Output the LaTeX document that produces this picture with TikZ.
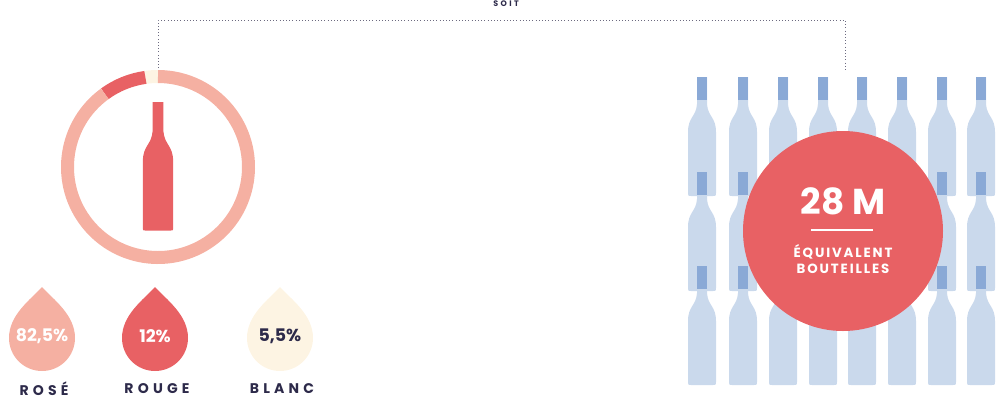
\documentclass[tikz,border=0pt]{standalone}
\usepackage{fontspec}
\setmainfont{Poppins}
\newfontfamily\spaced[LetterSpace=30]{Poppins}
\newfontfamily\wide[LetterSpace=14]{Poppins}
\definecolor{rosewine}{HTML}{F5B0A2}
\definecolor{redwine}{HTML}{E86164}
\definecolor{whitewine}{HTML}{FDF4E3}
\definecolor{glass}{HTML}{CAD9EC}
\definecolor{glasscap}{HTML}{8AA9D6}
\definecolor{ink}{HTML}{2D2A4A}
\begin{document}
\begin{tikzpicture}[x=0.75pt,y=-0.75pt]
    \tikzset{
      ring/.style={line width=9.75pt},
      drop/.style={fill=#1,draw=none},
      pct/.style={font=\bfseries\fontsize{13}{13}\selectfont},
      tag/.style={font=\spaced\bfseries\fontsize{10.5}{11}\selectfont,text=ink},
      bottle/.pic={
        \fill[#1] (-5,0) -- (5,0) -- (5,27) .. controls (6,40) and (14,40) .. (14,55)
          -- (14,116) .. controls (14,119) .. (11,119) -- (-11,119)
          .. controls (-14,119) .. (-14,116) -- (-14,55)
          .. controls (-14,40) and (-6,40) .. (-5,27) -- cycle;
      }
    }
    \useasboundingbox (0,0) rectangle (996,401);

    % dotted link
    \coordinate (donuttop) at (158,68);
    \coordinate (bottlestop) at (845,72);
    \draw[ink!70,dotted] (donuttop) |- (500,20) -| (bottlestop);
    \node[font=\spaced\bfseries\fontsize{6}{6}\selectfont,text=ink] (soit) at (506,4) {SOIT};

    % donut
    \coordinate (donut) at (158,167);
    \draw[ring,whitewine] (donut) ++(-90:90.5) arc(-90:-98:90.5);
    \draw[ring,redwine] (donut) ++(-98:90.5) arc(-98:-126:90.5);
    \draw[ring,rosewine] (donut) ++(-126:90.5) arc(-126:-450:90.5);
    \pic[scale=1.08] at (158,102) {bottle=redwine};

    % drops
    \foreach \x/\c/\v/\t/\l in {42/rosewine/{82,5\%}/white/ROSÉ,
                                155/redwine/{12\%}/white/ROUGE,
                                280/whitewine/{5,5\%}/ink/BLANC}{
      \fill[drop=\c] (\x,287) .. controls (\x+12,300) and (\x+33,315) .. (\x+33,338)
        arc(0:180:33) .. controls (\x-33,315) and (\x-12,300) .. cycle;
      \node[pct,text=\t] at (\x,336) {\v};
      \node[tag] at (\x+2,389) {\l};
    }

    % bottles
    \foreach \y in {77,172,266}
      \foreach \x in {702,743,783,823,862,902,942,981}{
        \pic at (\x,\y) {bottle=glass};
        \fill[glasscap] (\x-5,\y) rectangle (\x+5,\y+23);
      }

    % total
    \node[circle,fill=redwine,minimum size=150pt,inner sep=0pt] (total) at (843,231) {};
    \node[font=\bfseries\fontsize{27}{27}\selectfont,text=white] (million) at (843,201) {28 M};
    \draw[white,line width=1.2pt] (811,230) -- (873,230);
    \node[font=\wide\bfseries\fontsize{10}{12.5}\selectfont,text=white,align=center] (unit) at (843,259) {ÉQUIVALENT\\BOUTEILLES};
\end{tikzpicture}
\end{document}
